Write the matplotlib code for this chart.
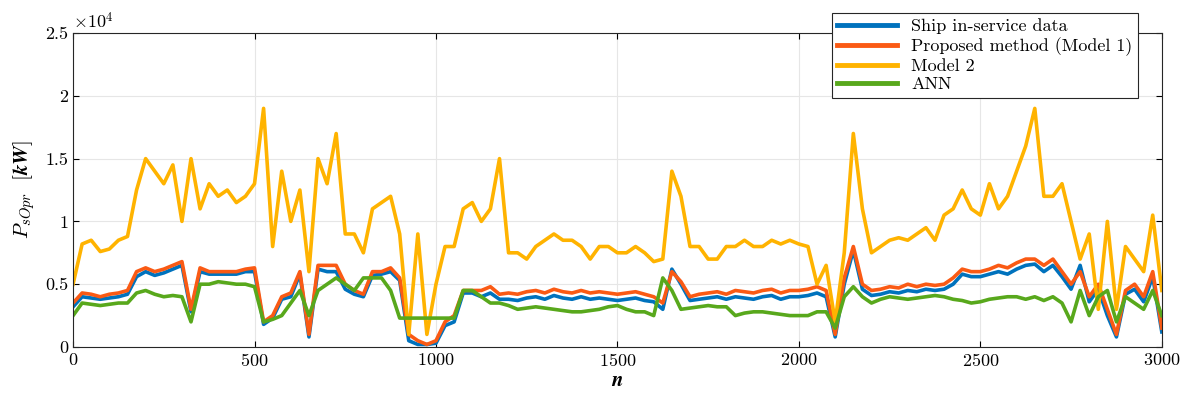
import numpy as np
import matplotlib
matplotlib.use("Agg")
import matplotlib.pyplot as plt
from matplotlib.ticker import FuncFormatter

plt.rcParams['font.family'] = ['cmr10', 'DejaVu Serif']
plt.rcParams['mathtext.fontset'] = 'cm'
plt.rcParams['axes.formatter.use_mathtext'] = True

# sample index, every 25 samples
n = np.arange(0, 3001, 25)

# values in 1e3 kW
model2 = [5, 8.2, 8.5, 7.6, 7.8, 8.5, 8.8, 12.5, 15, 14, 13, 14.5, 10, 15, 11, 13, 12, 12.5, 11.5, 12,
          13, 19, 8, 14, 10, 12.5, 6, 15, 13, 17, 9, 9, 7.5, 11, 11.5, 12, 9, 1, 9, 1,
          5, 8, 8, 11, 11.5, 10, 11, 15, 7.5, 7.5, 7, 8, 8.5, 9, 8.5, 8.5, 8, 7, 8, 8,
          7.5, 7.5, 8, 7.5, 6.8, 7, 14, 12, 8, 8, 7, 7, 8, 8, 8.5, 8, 8, 8.5, 8.2, 8.5,
          8.2, 8, 5, 6.5, 2, 7.5, 17, 11, 7.5, 8, 8.5, 8.7, 8.5, 9, 9.5, 8.5, 10.5, 11, 12.5, 11,
          10.5, 13, 11, 12, 14, 16, 19, 12, 12, 13, 10, 7, 9, 3, 10, 3, 8, 7, 6, 10.5, 4.5]
model1 = [3.5, 4.3, 4.2, 4.0, 4.2, 4.3, 4.5, 6.0, 6.3, 6.0, 6.2, 6.5, 6.8, 3.0, 6.3, 6.0, 6.0, 6.0, 6.0, 6.2,
          6.3, 2.0, 2.5, 4.0, 4.3, 6.0, 1.0, 6.5, 6.5, 6.5, 5.0, 4.5, 4.2, 6.0, 6.0, 6.3, 5.5, 1.0, 0.5, 0.2,
          0.5, 2.0, 2.5, 4.5, 4.5, 4.5, 4.8, 4.2, 4.3, 4.2, 4.4, 4.5, 4.3, 4.6, 4.4, 4.3, 4.5, 4.3, 4.4, 4.3,
          4.2, 4.3, 4.4, 4.2, 4.0, 3.5, 6.0, 5.2, 4.0, 4.2, 4.3, 4.4, 4.2, 4.5, 4.4, 4.3, 4.5, 4.6, 4.3, 4.5,
          4.5, 4.6, 4.8, 4.5, 1.0, 5.5, 8.0, 5.0, 4.5, 4.6, 4.8, 4.7, 5.0, 4.8, 5.0, 4.9, 5.0, 5.5, 6.2, 6.0,
          6.0, 6.2, 6.5, 6.3, 6.7, 7.0, 7.0, 6.5, 7.0, 6.0, 5.0, 6.0, 4.0, 5.0, 3.0, 1.0, 4.5, 5.0, 4.0, 6.0, 1.5]
ship = [3.2, 4.0, 3.9, 3.8, 3.9, 4.0, 4.2, 5.6, 6.0, 5.7, 5.9, 6.2, 6.5, 2.8, 6.0, 5.8, 5.8, 5.8, 5.8, 6.0,
        6.0, 1.8, 2.3, 3.8, 4.0, 5.8, 0.8, 6.2, 6.0, 6.0, 4.6, 4.2, 4.0, 5.7, 5.8, 6.0, 5.3, 0.5, 0.2, 0.2,
        0.3, 1.7, 2.0, 4.3, 4.3, 4.0, 4.3, 3.8, 3.8, 3.7, 3.9, 4.0, 3.8, 4.1, 3.9, 3.8, 4.0, 3.8, 3.9, 3.8,
        3.7, 3.8, 3.9, 3.7, 3.6, 3.0, 6.2, 5.0, 3.7, 3.8, 3.9, 4.0, 3.8, 4.0, 3.9, 3.8, 4.0, 4.1, 3.8, 4.0,
        4.0, 4.1, 4.3, 4.0, 0.8, 5.0, 7.7, 4.6, 4.1, 4.2, 4.4, 4.3, 4.5, 4.4, 4.6, 4.5, 4.6, 5.0, 5.8, 5.6,
        5.6, 5.8, 6.0, 5.8, 6.2, 6.5, 6.6, 6.0, 6.5, 5.6, 4.6, 6.5, 3.6, 4.6, 2.5, 0.8, 4.2, 4.6, 3.6, 5.6, 1.2]
ann = [2.5, 3.5, 3.4, 3.3, 3.4, 3.5, 3.5, 4.3, 4.5, 4.2, 4.0, 4.1, 4.0, 2.0, 5.0, 5.0, 5.2, 5.1, 5.0, 5.0,
       4.8, 2.0, 2.2, 2.5, 3.5, 4.5, 2.5, 4.5, 5.0, 5.5, 5.0, 4.5, 5.5, 5.5, 5.5, 4.5, 2.3, 2.3, 2.3, 2.3,
       2.3, 2.3, 2.3, 4.5, 4.5, 4.0, 3.5, 3.5, 3.3, 3.0, 3.1, 3.2, 3.1, 3.0, 2.9, 2.8, 2.8, 2.9, 3.0, 3.2,
       3.3, 3.0, 2.8, 2.8, 2.5, 5.5, 4.5, 3.0, 3.1, 3.2, 3.3, 3.2, 3.2, 2.5, 2.7, 2.8, 2.8, 2.7, 2.6, 2.5,
       2.5, 2.5, 2.8, 2.8, 1.5, 4.0, 4.8, 4.0, 3.5, 3.8, 4.0, 3.9, 3.8, 3.9, 4.0, 4.1, 4.0, 3.8, 3.7, 3.5,
       3.6, 3.8, 3.9, 4.0, 4.0, 3.8, 4.0, 3.7, 4.0, 3.5, 2.0, 4.5, 2.5, 4.0, 4.5, 2.0, 4.0, 3.5, 3.0, 4.5, 2.5]

labels = ['Ship in-service data', 'Proposed method (Model 1)', 'Model 2', 'ANN']
colors = ['#0072BD', '#FA5A14', '#FFB300', '#58A81C']

fig = plt.figure(figsize=(11.86, 4.03), dpi=100)
ax = fig.add_axes([0.0616, 0.139, 0.918, 0.779])

for y, lab, c in zip([ship, model1, model2, ann], labels, colors):
    ax.plot(n, np.array(y) / 10, color=c, lw=2.6, label=lab)

ax.set_xlim(0, 3000)
ax.set_ylim(0, 2.5)
ax.set_xticks(np.arange(0, 3001, 500))
ax.set_yticks(np.arange(0, 2.51, 0.5))
ax.yaxis.set_major_formatter(FuncFormatter(lambda v, p: '%g' % v))
ax.grid(True, color='#e6e6e6', lw=0.8)
ax.set_axisbelow(True)
ax.tick_params(direction='in', labelsize=13, top=True, right=True, length=4)
for s in ax.spines.values():
    s.set_color('#262626')
ax.text(0.0, 1.005, r'$\times 10^4$', transform=ax.transAxes, fontsize=13, va='bottom')
ax.set_xlabel(r'$\boldsymbol{n}$', fontsize=15, labelpad=2)
ax.set_ylabel(r'$P_{sOpr}\ \ [\boldsymbol{kW}]$', fontsize=15, labelpad=6)

leg = ax.legend(loc='upper right', bbox_to_anchor=(1147 / 1186, 1 - 4 / 403),
                bbox_transform=fig.transFigure, fontsize=13, frameon=True, fancybox=False,
                edgecolor='#262626', handlelength=3.3, framealpha=1,
                labelspacing=0.15, borderpad=0.3)
leg.get_frame().set_linewidth(0.8)
for l in leg.get_lines():
    l.set_linewidth(3.5)

plt.savefig('out.png', dpi=100)
